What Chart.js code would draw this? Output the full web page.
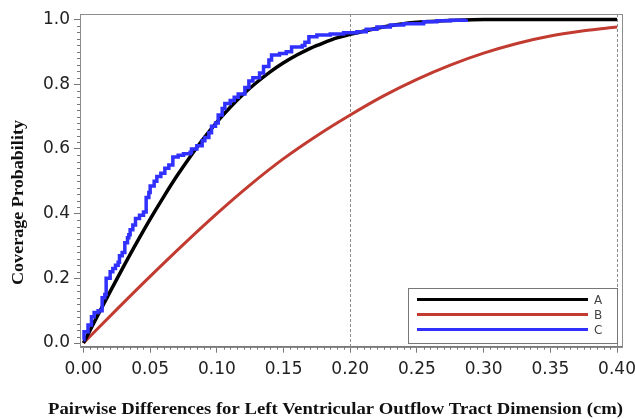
<!DOCTYPE html>
<html><head><meta charset="utf-8">
<script src="https://cdn.jsdelivr.net/npm/chart.js@4.4.1/dist/chart.umd.min.js"></script>
<style>html,body{margin:0;padding:0;background:#fff;}</style>
</head><body>
<canvas id="c" width="635" height="419"></canvas>
<script>
const seriesNames = ['A', 'B', 'C'];
const seriesColors = ['#000000', '#c23b30', '#3030ff'];

// Series A (smooth, black)
const aX = [0, 0.01, 0.02, 0.03, 0.04, 0.05, 0.06, 0.07, 0.08, 0.09, 0.10, 0.11, 0.12, 0.13, 0.14, 0.15, 0.16, 0.17, 0.18, 0.19, 0.20, 0.22, 0.24, 0.26, 0.28, 0.30, 0.35, 0.40];
const aY = [0, 0.08, 0.159, 0.236, 0.311, 0.383, 0.451, 0.516, 0.576, 0.632, 0.683, 0.729, 0.770, 0.806, 0.838, 0.866, 0.890, 0.911, 0.928, 0.943, 0.954, 0.973, 0.987, 0.994, 0.998, 1.0, 1.0, 1.0];

// Series B (smooth, red)
const bX = [0, 0.025, 0.05, 0.075, 0.10, 0.125, 0.15, 0.175, 0.20, 0.225, 0.25, 0.275, 0.30, 0.325, 0.35, 0.375, 0.40];
const bY = [0, 0.104, 0.206, 0.305, 0.40, 0.489, 0.570, 0.641, 0.705, 0.764, 0.815, 0.859, 0.896, 0.926, 0.949, 0.965, 0.977];

// Series C (empirical step curve, blue)
const cX = [0, 0.0004, 0.0034, 0.006, 0.008, 0.011, 0.014, 0.016, 0.017, 0.020, 0.022, 0.024, 0.026, 0.027, 0.029, 0.031, 0.033, 0.034, 0.035, 0.037, 0.039, 0.042, 0.045, 0.047, 0.049, 0.050, 0.053, 0.055, 0.058, 0.061, 0.064, 0.067, 0.071, 0.075, 0.080, 0.081, 0.085, 0.089, 0.091, 0.094, 0.096, 0.099, 0.101, 0.104, 0.106, 0.110, 0.113, 0.116, 0.121, 0.124, 0.127, 0.132, 0.135, 0.139, 0.141, 0.147, 0.152, 0.156, 0.164, 0.166, 0.169, 0.175, 0.185, 0.195, 0.205, 0.212, 0.220, 0.230, 0.240, 0.255, 0.265, 0.275, 0.287];
const cY = [0.01, 0.035, 0.056, 0.081, 0.094, 0.10, 0.14, 0.15, 0.20, 0.22, 0.23, 0.24, 0.25, 0.27, 0.28, 0.31, 0.325, 0.335, 0.35, 0.365, 0.385, 0.395, 0.405, 0.45, 0.465, 0.485, 0.50, 0.515, 0.525, 0.54, 0.55, 0.575, 0.58, 0.585, 0.59, 0.60, 0.61, 0.625, 0.635, 0.65, 0.67, 0.68, 0.705, 0.725, 0.74, 0.75, 0.76, 0.77, 0.79, 0.81, 0.82, 0.835, 0.855, 0.875, 0.89, 0.895, 0.90, 0.915, 0.92, 0.93, 0.947, 0.952, 0.955, 0.959, 0.962, 0.970, 0.977, 0.983, 0.987, 0.993, 0.996, 0.998, 1.0];

const xTickValues = [0, 0.05, 0.10, 0.15, 0.20, 0.25, 0.30, 0.35, 0.40];
const yTickValues = [0, 0.2, 0.4, 0.6, 0.8, 1.0];
const refLineValues = [0.20, 0.40];
const xTitle = 'Pairwise Differences for Left Ventricular Outflow Tract Dimension (cm)';
const yTitle = 'Coverage Probability';

const toPts = (xs, ys) => xs.map((v, i) => ({ x: v, y: ys[i] }));

function fittedText(ctx, text, cx, cy, width) {
  const w = ctx.measureText(text).width;
  ctx.save();
  ctx.translate(cx, cy);
  ctx.scale(width / w, 1);
  ctx.fillText(text, 0, 0);
  ctx.restore();
}

const decorations = {
  id: 'decorations',
  beforeDatasetsDraw(chart) {
    const { ctx, chartArea: ca, scales: { x } } = chart;
    ctx.save();
    ctx.strokeStyle = '#8c8c8c';
    ctx.lineWidth = 1;
    ctx.setLineDash([3, 2]);
    refLineValues.forEach(v => {
      const px = Math.round(x.getPixelForValue(v)) + 0.5;
      ctx.beginPath(); ctx.moveTo(px, ca.top); ctx.lineTo(px, ca.bottom); ctx.stroke();
    });
    ctx.restore();
  },
  afterDraw(chart) {
    const { ctx, chartArea: ca, scales: { x, y } } = chart;
    ctx.save();
    // frame
    ctx.strokeStyle = '#8c8c8c';
    ctx.lineWidth = 1;
    ctx.strokeRect(Math.round(ca.left) + 0.5, Math.round(ca.top) + 0.5, Math.round(ca.right - ca.left), Math.round(ca.bottom - ca.top));
    // minor ticks
    ctx.strokeStyle = '#777';
    ctx.beginPath();
    for (let i = 0; i <= 80; i++) {
      if (i % 10 === 0) continue;
      const px = Math.round(x.getPixelForValue(i * 0.005)) + 0.5;
      ctx.moveTo(px, ca.bottom); ctx.lineTo(px, ca.bottom + 3);
    }
    for (let i = 0; i <= 50; i++) {
      if (i % 10 === 0) continue;
      const py = Math.round(y.getPixelForValue(i * 0.02)) + 0.5;
      ctx.moveTo(ca.left, py); ctx.lineTo(ca.left - 3, py);
    }
    ctx.stroke();
    // axis titles
    ctx.fillStyle = '#111';
    ctx.font = 'bold 17.5px "Liberation Serif"';
    ctx.textAlign = 'center';
    ctx.textBaseline = 'alphabetic';
    fittedText(ctx, xTitle, 335.5, 413.5, 575);
    ctx.save();
    ctx.translate(22.5, 202.5);
    ctx.rotate(-Math.PI / 2);
    fittedText(ctx, yTitle, 0, 0, 165);
    ctx.restore();
    // legend
    const lw = 209, lh = 55;
    const lx = Math.round(ca.right - 5 - lw), ly = Math.round(ca.bottom - 4 - lh);
    ctx.fillStyle = '#fff';
    ctx.fillRect(lx, ly, lw, lh);
    ctx.strokeStyle = '#777';
    ctx.lineWidth = 1;
    ctx.strokeRect(lx + 0.5, ly + 0.5, lw, lh);
    ctx.font = '12px "DejaVu Sans"';
    ctx.textAlign = 'left';
    ctx.textBaseline = 'middle';
    chart.data.datasets.forEach((ds, i) => {
      const ry = ly + 11.5 + i * 15;
      ctx.strokeStyle = ds.borderColor;
      ctx.lineWidth = 3;
      ctx.beginPath(); ctx.moveTo(lx + 9, ry); ctx.lineTo(lx + 180, ry); ctx.stroke();
      ctx.fillStyle = '#444';
      ctx.fillText(ds.label, lx + 186, ry + 1);
    });
    ctx.restore();
  }
};

new Chart(document.getElementById('c'), {
  type: 'line',
  data: {
    datasets: [
      { label: seriesNames[0], data: toPts(aX, aY), borderColor: seriesColors[0], borderWidth: 3.5, pointRadius: 0, cubicInterpolationMode: 'monotone', order: 2 },
      { label: seriesNames[1], data: toPts(bX, bY), borderColor: seriesColors[1], borderWidth: 3, pointRadius: 0, cubicInterpolationMode: 'monotone', order: 3 },
      { label: seriesNames[2], data: toPts(cX, cY), borderColor: seriesColors[2], borderWidth: 3.5, pointRadius: 0, stepped: true, order: 1 }
    ]
  },
  options: {
    responsive: false,
    animation: false,
    layout: { padding: { top: 14, right: 13.3, left: 0, bottom: 0 } },
    plugins: { legend: { display: false }, tooltip: { enabled: false } },
    scales: {
      x: {
        type: 'linear', min: -0.0026, max: 0.4035,
        afterBuildTicks: s => { s.ticks = xTickValues.map(v => ({ value: v })); },
        afterFit: s => { s.height = 72.3; s.paddingLeft = 0; s.paddingRight = 0; },
        ticks: { callback: v => Number(v).toFixed(2), font: { family: 'DejaVu Sans', size: 17 }, color: '#222', padding: 7, maxRotation: 0, autoSkip: false },
        grid: { drawOnChartArea: false, drawTicks: true, tickLength: 6, color: '#777' },
        border: { display: true, color: '#777' }
      },
      y: {
        type: 'linear', min: -0.0114, max: 1.017,
        afterBuildTicks: s => { s.ticks = yTickValues.map(v => ({ value: v })); },
        afterFit: s => { s.width = 80; s.paddingTop = 0; s.paddingBottom = 0; },
        ticks: { callback: v => Number(v).toFixed(1), font: { family: 'DejaVu Sans', size: 17 }, color: '#222', padding: 4, autoSkip: false },
        grid: { drawOnChartArea: false, drawTicks: true, tickLength: 6, color: '#777' },
        border: { display: true, color: '#777' }
      }
    }
  },
  plugins: [decorations]
});
</script>
</body></html>
